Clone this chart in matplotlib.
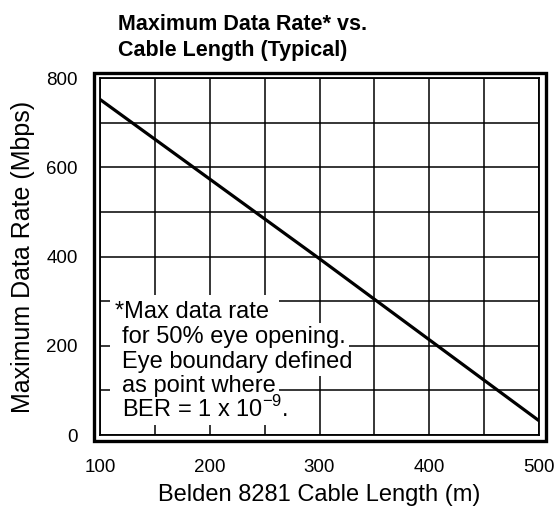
import matplotlib.pyplot as plt
from matplotlib.patches import Rectangle
from matplotlib import font_manager

# data
cable_length = [100, 300, 500]
data_rate = [752, 395, 32]

x_ticks = [100, 200, 300, 400, 500]
y_ticks = [0, 200, 400, 600, 800]

note_lines = ["*Max data rate", "for 50% eye opening.", "Eye boundary defined",
              "as point where", "BER = 1 x 10$^{\\mathregular{-9}}$."]
note_y = [262, 206, 150, 96, 40]

names = {f.name for f in font_manager.fontManager.ttflist}
tick_font = "Liberation Sans Narrow" if "Liberation Sans Narrow" in names else "Liberation Sans"
plt.rcParams["font.family"] = ["Liberation Sans", "DejaVu Sans"]
plt.rcParams["mathtext.fontset"] = "custom"
plt.rcParams["mathtext.rm"] = "Liberation Sans"

fig = plt.figure(figsize=(5.58, 5.08), dpi=100)
ax = fig.add_axes([100/558, 1-435/508, 439/558, 357/508])

ax.plot(cable_length, data_rate, color="black", lw=2.3, solid_capstyle="butt", zorder=3)

ax.set_xlim(100, 500)
ax.set_ylim(0, 800)
ax.set_xticks(range(100, 501, 50))
ax.set_yticks(range(0, 801, 100))
ax.grid(True, color="black", lw=1.1)
ax.set_xticklabels([str(v) if v in x_ticks else "" for v in range(100, 501, 50)],
                   family=tick_font, fontsize=13.5)
ax.set_yticklabels([str(v) if v in y_ticks else "" for v in range(0, 801, 100)],
                   family=tick_font, fontsize=13.5)
ax.tick_params(length=0)
ax.tick_params(axis="y", pad=16)
ax.tick_params(axis="x", pad=17)
for s in ax.spines.values():
    s.set_linewidth(1.3)

# outer thick frame
ax.add_patch(Rectangle((-6.5/439, -5.5/357), 1+13/439, 1+11/357, transform=ax.transAxes,
                       fill=False, lw=2.4, ec="black", clip_on=False, zorder=5))

# footnote, white behind it (backgrounds first, then the text on top)
ax.add_patch(Rectangle((109, 29), 154, 285, facecolor="white", edgecolor="none", zorder=2.5))
for i, (line, yv) in enumerate(zip(note_lines, note_y)):
    x0 = 113.5 if i == 0 else 120
    ax.text(x0, yv, line, fontsize=17, va="baseline", ha="left", color="white",
            zorder=2.6, bbox=dict(facecolor="white", edgecolor="none", pad=2.0))
    ax.text(x0, yv, line, fontsize=17, va="baseline", ha="left", zorder=4)

ax.set_xlabel("Belden 8281 Cable Length (m)", fontsize=17)
ax.xaxis.set_label_coords(0.5, -0.138)
ax.set_ylabel("Maximum Data Rate (Mbps)", fontsize=18)
ax.yaxis.set_label_coords(-0.148, 0.5)
fig.text(118/558, 1-14/508, "Maximum Data Rate* vs.\nCable Length (Typical)",
         fontsize=15.5, fontweight="bold", va="top", ha="left", linespacing=1.3)

fig.savefig("out.png", dpi=100)
